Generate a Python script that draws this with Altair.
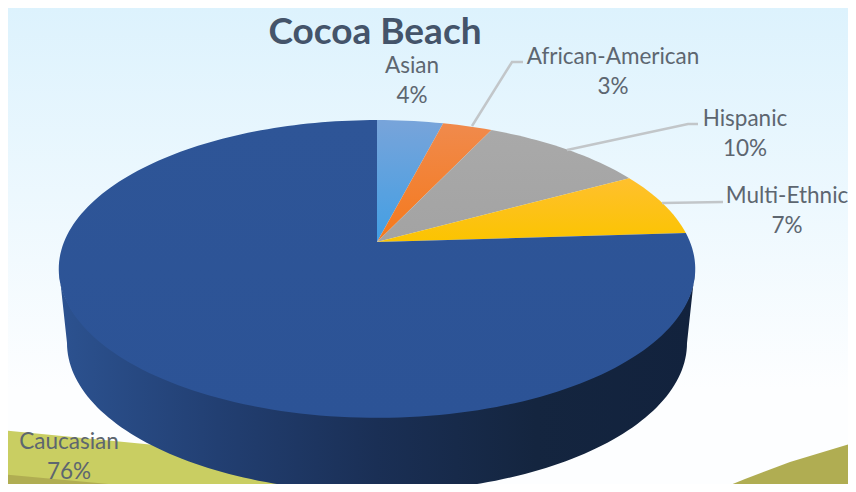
import math
import altair as alt

# Chart values
categories = ["Asian", "African-American", "Hispanic", "Multi-Ethnic", "Caucasian"]
shares = [4, 3, 10, 7, 76]
title_text = "Cocoa Beach"

# Styling and layout, in reference-picture pixels
fills = {
    "Asian": ("#78a4da", "#429fe4"),
    "African-American": ("#f08a4c", "#f5791c"),
    "Hispanic": ("#a9a9a9", "#a3a3a3"),
    "Multi-Ethnic": ("#ffc02e", "#fbc400"),
    "Caucasian": ("#2e5597", "#2c5396"),
}
label_x = [412, 613, 745, 787, 69]
label_y = [66, 57, 119, 196, 442]
LINE_GAP = 30
leaders = [
    [[472, 126], [512, 62], [523, 62]],
    [[567, 150], [688, 124], [698, 124]],
    [[662, 203], [723, 202]],
]
CX, CY = 377, 242      # pie apex
RX, RB, K = 313, 144, -0.181  # projective view of the tilted disc
DEPTH_Y, DEPTH_RX, DEPTH_RY = 343, 310, 149
ELL_Y, ELL_RX, ELL_RY = 269, 318, 149


def rim(frac):
    t = 2 * math.pi * frac
    d = 1 - K * math.cos(t)
    return [CX + RX * math.sin(t) / d, CY - RB * math.cos(t) / d]


def sector(f0, f1):
    n = max(2, int((f1 - f0) * 240))
    pts = [[CX, CY]] + [rim(f0 + (f1 - f0) * i / n) for i in range(n + 1)] + [[CX, CY]]
    return pts


def shape(coords, kind="Polygon"):
    g = {"type": kind, "coordinates": [coords] if kind == "Polygon" else coords}
    return alt.Data(values=[{"type": "Feature", "properties": {}, "geometry": g}])


def grad(stops, horizontal=False):
    n = len(stops) - 1
    return alt.Gradient(
        gradient="linear",
        x1=0, y1=0,
        x2=1 if horizontal else 0,
        y2=0 if horizontal else 1,
        stops=[alt.GradientStop(offset=i / n, color=c) for i, c in enumerate(stops)],
    )


def poly(coords, fill):
    return alt.Chart(shape(coords)).mark_geoshape(fill=fill, stroke=None, strokeWidth=0).project(
        type="identity", scale=1, translate=[-8, -8]
    )


layers = []
# backdrop
layers.append(poly([[0, 0], [856, 0], [856, 390], [0, 390], [0, 0]], grad(["#dcf2fd", "#fdfeff"])))
layers.append(poly([[0, 390], [856, 390], [856, 492], [0, 492], [0, 390]], "#fdfeff"))
layers.append(poly([[0, 430], [155, 445], [300, 470], [480, 492], [0, 492], [0, 430]], "#c9ce62"))
layers.append(poly([[0, 474], [195, 492], [0, 492], [0, 474]], "#b0ad52"))
layers.append(poly([[713, 492], [745, 479], [790, 462], [856, 442], [856, 492], [713, 492]], "#b0ad52"))

# side wall (upper arc tucked under the top face)
wall = []
for i in range(121):
    a = math.pi * i / 120
    wall.append([CX + ELL_RX * math.cos(a), ELL_Y + (ELL_RY - 4) * math.sin(a)])
for i in range(120, -1, -1):
    a = math.pi * i / 120
    wall.append([CX + DEPTH_RX * math.cos(a), DEPTH_Y + DEPTH_RY * math.sin(a)])
wall.append(wall[0])
layers.append(poly(wall, grad(["#2c5290", "#223f72", "#1a2f55", "#14253f", "#12223d"], horizontal=True)))

# top face, drawn from the shares
start = 0.0
total = sum(shares)
for cat, share in zip(categories, shares):
    f1 = start + share / total
    layers.append(poly(sector(start, f1), grad(list(fills[cat]))))
    start = f1

# leader lines
for line in leaders:
    layers.append(
        alt.Chart(shape(line, "LineString"))
        .mark_geoshape(filled=False, stroke="#c2c6c9", strokeWidth=2.5)
        .project(type="identity", scale=1, translate=[-8, -8])
    )

# labels
rows = []
for cat, share, x, y in zip(categories, shares, label_x, label_y):
    rows.append({"t": cat, "px": x - 8, "py": y - 8})
    rows.append({"t": f"{share}%", "px": x - 8, "py": y - 8 + LINE_GAP})
layers.append(
    alt.Chart(alt.Data(values=rows))
    .mark_text(font="Lato", fontSize=22.5, color="#5d6670", align="center", baseline="middle")
    .encode(x=alt.X("px:Q", scale=None), y=alt.Y("py:Q", scale=None), text="t:N")
)
layers.append(
    alt.Chart(alt.Data(values=[{"t": title_text, "px": 375 - 8, "py": 33 - 8}]))
    .mark_text(font="Lato", fontSize=37, fontWeight="bold", color="#44546a", align="center", baseline="middle")
    .encode(x=alt.X("px:Q", scale=None), y=alt.Y("py:Q", scale=None), text="t:N")
)

chart = (
    alt.layer(*layers)
    .properties(width=840, height=476, padding=0, autosize=alt.AutoSizeParams(type="none"), background="#ffffff")
    .configure_view(stroke=None)
)
chart.save("out.html", embed_options={"renderer": "svg", "actions": False})
